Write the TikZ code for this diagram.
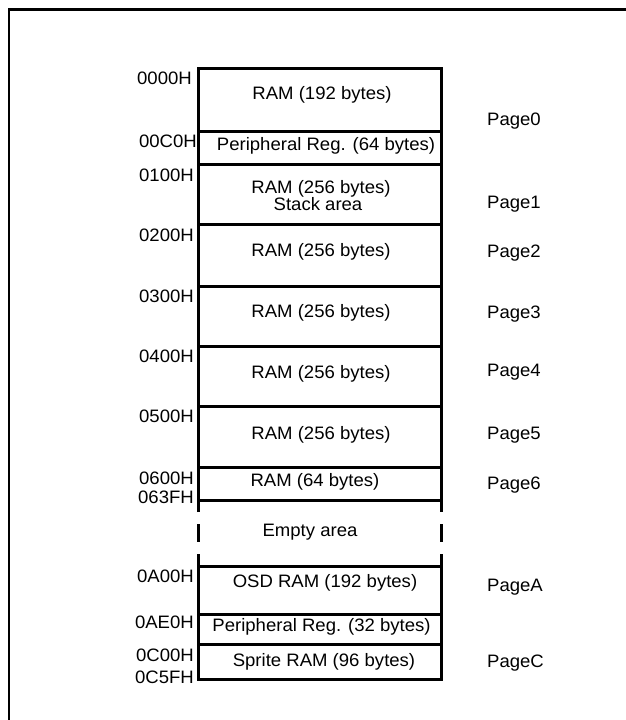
\documentclass[tikz,border=0pt]{standalone}
\usepackage{fontspec}
\setmainfont[FakeStretch=1.03]{Liberation Sans}
\begin{document}
\begin{tikzpicture}[x=1pt,y=-1pt,
  txt/.style={font=\fontsize{18}{20}\selectfont, inner sep=0pt},
  addr/.style={txt, anchor=base east},
  pg/.style={txt, anchor=base west},
  cell/.style={txt, anchor=base},
  wall/.style={line width=3pt},
  frameline/.style={line width=2.5pt}]
\useasboundingbox (0,0) rectangle (625,720);
% outer frame (runs past the right and bottom edges)
\draw[frameline] (9,740) -- (9,9.5) -- (640,9.5);

% upper block
\draw[wall] (198,512) -- (198,68) -- (441,68) -- (441,512);
\foreach \yy in {131,164,224,286,346,406,467,500}
  \draw[wall] (198,\yy) -- (441,\yy);
% empty area dashes
\draw[wall] (198,524) -- (198,542);
\draw[wall] (441,524) -- (441,542);
% lower block
\draw[wall] (198,554) -- (198,681);
\draw[wall] (441,554) -- (441,681);
\foreach \yy in {566,614,644,679}
  \draw[wall] (198,\yy) -- (441,\yy);

% addresses
\node[addr] (a0000) at (192,84) {0000H};
\node[addr] (a00C0) at (197,147) {00C0H};
\node[addr] (a0100) at (194,181) {0100H};
\node[addr] (a0200) at (194,241) {0200H};
\node[addr] (a0300) at (194,302) {0300H};
\node[addr] (a0400) at (194,362) {0400H};
\node[addr] (a0500) at (194,422) {0500H};
\node[addr] (a0600) at (194,484) {0600H};
\node[addr] (a063F) at (194,503) {063FH};
\node[addr] (a0A00) at (194,582.5) {0A00H};
\node[addr] (a0AE0) at (194,628) {0AE0H};
\node[addr] (a0C00) at (194,661) {0C00H};
\node[addr] (a0C5F) at (194,683) {0C5FH};

% cell contents
\node[cell] (r192) at (322,99.5) {RAM (192 bytes)};
\node[cell] (p64) at (326,150) {Peripheral Reg. (64 bytes)};
\node[cell] (r256a) at (321,193.5) {RAM (256 bytes)};
\node[cell] (stack) at (318,210) {Stack area};
\node[cell] (r256b) at (321,256.5) {RAM (256 bytes)};
\node[cell] (r256c) at (321,317) {RAM (256 bytes)};
\node[cell] (r256d) at (321,378) {RAM (256 bytes)};
\node[cell] (r256e) at (321,439) {RAM (256 bytes)};
\node[cell] (r64) at (315,486.5) {RAM (64 bytes)};
\node[cell] (empty) at (310,536) {Empty area};
\node[cell] (osd) at (325,587.5) {OSD RAM (192 bytes)};
\node[cell] (p32) at (321.5,631.5) {Peripheral Reg. (32 bytes)};
\node[cell] (spr) at (324,666.5) {Sprite RAM (96 bytes)};

% pages
\node[pg] (pg0) at (487,125) {Page0};
\node[pg] (pg1) at (487,208) {Page1};
\node[pg] (pg2) at (487,257) {Page2};
\node[pg] (pg3) at (487,318) {Page3};
\node[pg] (pg4) at (487,376) {Page4};
\node[pg] (pg5) at (487,439) {Page5};
\node[pg] (pg6) at (487,489) {Page6};
\node[pg] (pgA) at (487,591) {PageA};
\node[pg] (pgC) at (487,667) {PageC};
\end{tikzpicture}
\end{document}
